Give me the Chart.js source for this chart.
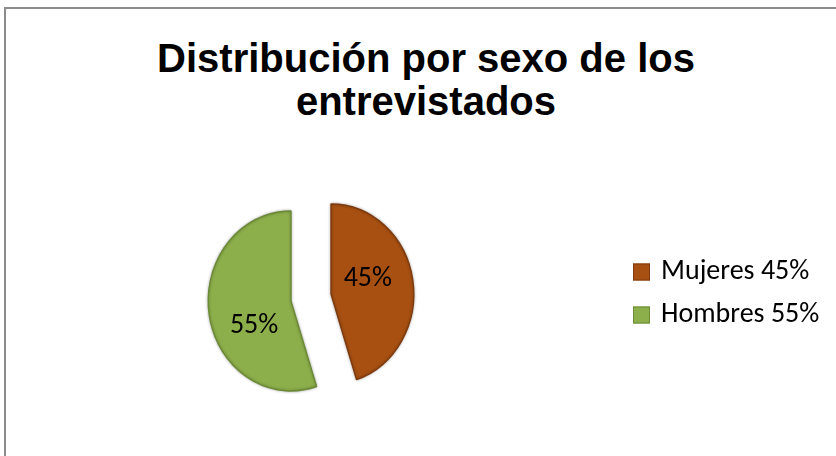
<!DOCTYPE html>
<html>
<head>
<meta charset="utf-8">
<script src="https://cdn.jsdelivr.net/npm/chart.js@4.4.0/dist/chart.umd.min.js"></script>
<style>
  html, body { margin: 0; padding: 0; background: #fff; overflow: hidden; }
  #wrap { position: relative; width: 836px; height: 456px; }
  #frame { position: absolute; left: 4px; top: 7px; width: 900px; height: 500px;
           border-left: 2px solid #8c8c8c; border-top: 2px solid #8c8c8c; }
  #title { position: absolute; left: 16px; top: 37px; width: 820px; text-align: center;
           font: bold 40px/43px "Liberation Sans", Arial, sans-serif; color: #000; }
  canvas { position: absolute; left: 0; top: 0; }
</style>
</head>
<body>
<div id="wrap">
  <div id="frame"></div>
  <div id="title">Distribución por sexo de los<br>entrevistados</div>
  <canvas id="sexo-chart" width="836" height="456"></canvas>
</div>
<script>
const categories = ["Mujeres", "Hombres"];
const shares = [45, 55];
const sliceColors = ["#A85012", "#8DAF4B"];
const edgeColors = ["#7E3A0C", "#6B8A35"];

// excel-like look: slices pulled apart, pie a bit narrower than tall
const EXPLODE = 22;
const SQUISH = 0.92;
const LABEL_TURN = 18 * Math.PI / 180;
const LABEL_DIST = 0.5;
const LABEL_DY = 5;
const TEXT_FONT = '28px Carlito, Lato, sans-serif';

class ExplodedPieController extends Chart.PieController {
  draw() {
    const ctx = this.chart.ctx;
    const arcs = this._cachedMeta.data;
    if (!arcs.length) return;
    const cx = arcs[0].x;
    ctx.save();
    ctx.translate(cx, 0);
    ctx.scale(SQUISH, 1);
    ctx.translate(-cx, 0);
    ctx.shadowColor = 'rgba(0,0,0,0.3)';
    ctx.shadowBlur = 3;
    arcs.forEach(arc => {
      const mid = (arc.startAngle + arc.endAngle) / 2;
      ctx.save();
      ctx.translate(Math.cos(mid) * EXPLODE, Math.sin(mid) * EXPLODE);
      arc.draw(ctx, this.chart.chartArea);
      ctx.restore();
    });
    ctx.restore();
  }
}
ExplodedPieController.id = 'explodedPie';
ExplodedPieController.defaults = Chart.PieController.defaults;
Chart.register(ExplodedPieController);

const pieLabels = {
  id: 'pieLabels',
  afterDatasetsDraw(chart) {
    const ctx = chart.ctx;
    const arcs = chart.getDatasetMeta(0).data;
    ctx.save();
    ctx.font = TEXT_FONT;
    ctx.fillStyle = '#000';
    ctx.textAlign = 'center';
    ctx.textBaseline = 'middle';
    arcs.forEach((arc, i) => {
      const mid = (arc.startAngle + arc.endAngle) / 2;
      const a = mid - LABEL_TURN;
      const r = arc.outerRadius * LABEL_DIST;
      const x = arc.x + (Math.cos(mid) * EXPLODE + Math.cos(a) * r) * SQUISH;
      const y = arc.y + Math.sin(mid) * EXPLODE + Math.sin(a) * r + LABEL_DY;
      ctx.fillText(shares[i] + '%', x, y);
    });
    ctx.restore();
  }
};

const sideLegend = {
  id: 'sideLegend',
  afterDraw(chart, args, opts) {
    const ctx = chart.ctx;
    const ds = chart.data.datasets[0];
    ctx.save();
    ctx.font = TEXT_FONT;
    ctx.textAlign = 'left';
    ctx.textBaseline = 'middle';
    chart.data.labels.forEach((label, i) => {
      const y = opts.top + i * opts.rowGap;
      ctx.fillStyle = ds.backgroundColor[i];
      ctx.fillRect(opts.x, y - opts.box / 2, opts.box, opts.box);
      ctx.strokeStyle = ds.borderColor[i];
      ctx.lineWidth = 1;
      ctx.strokeRect(opts.x + 0.5, y - opts.box / 2 + 0.5, opts.box - 1, opts.box - 1);
      ctx.fillStyle = '#000';
      ctx.fillText(label + ' ' + ds.data[i] + '%', opts.x + opts.box + opts.gap, y);
    });
    ctx.restore();
  }
};

const config = {
  type: 'explodedPie',
  data: {
    labels: categories,
    datasets: [{
      data: shares,
      backgroundColor: sliceColors,
      borderColor: edgeColors,
      borderWidth: 1.5,
      radius: 90
    }]
  },
  options: {
    responsive: false,
    animation: false,
    events: [],
    layout: { padding: { top: 139, right: 214, bottom: 0, left: 0 } },
    plugins: {
      legend: { display: false },
      title: { display: false },
      tooltip: { enabled: false },
      sideLegend: { x: 633, top: 272, rowGap: 43, box: 17, gap: 11 }
    }
  },
  plugins: [pieLabels, sideLegend]
};

const sexoChart = new Chart(document.getElementById('sexo-chart'), config);
</script>
</body>
</html>
